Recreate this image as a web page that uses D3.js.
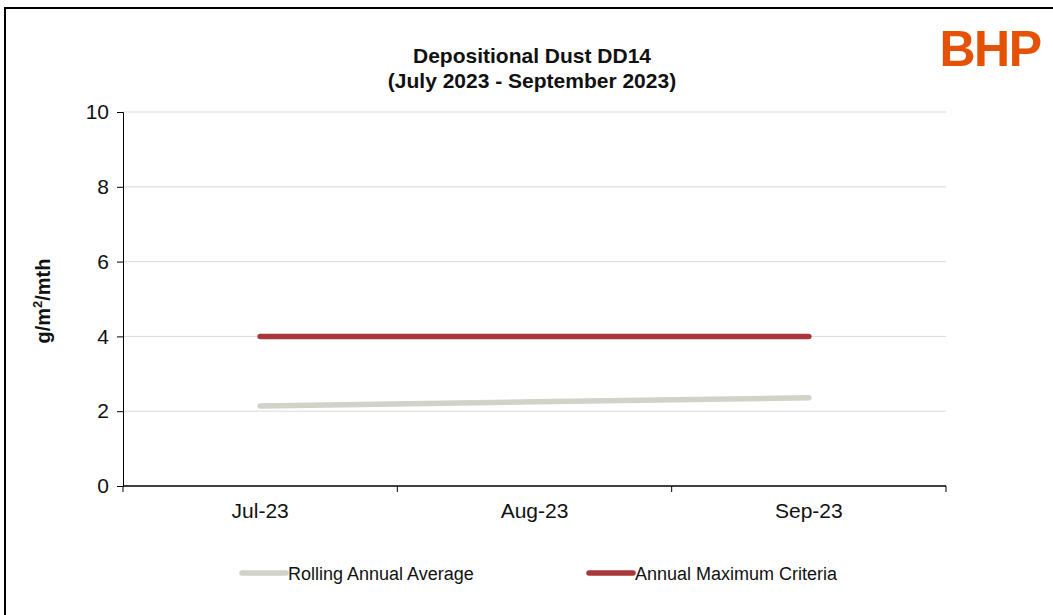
<!DOCTYPE html>
<html>
<head>
<meta charset="utf-8">
<script src="https://cdn.jsdelivr.net/npm/d3@7"></script>
<style>
  body { margin: 0; background: #fff; }
  text { font-family: "Liberation Sans", Arial, sans-serif; }
</style>
</head>
<body>
<svg id="chart" width="1053" height="615"></svg>
<script>
var months = ["Jul-23", "Aug-23", "Sep-23"];
var rollingAvg = [2.14, 2.25, 2.36];
var maxCriteria = [4, 4, 4];
var yTicks = [0, 2, 4, 6, 8, 10];

var svg = d3.select("#chart");
var margin = {left: 123, right: 107, top: 112, bottom: 129};
var width = 1053 - margin.left - margin.right,
	height = 615 - margin.top - margin.bottom;

// outer frame
svg.append("rect")
	.attr("x", 5).attr("y", 8)
	.attr("width", 1060).attr("height", 620)
	.attr("fill", "none").attr("stroke", "#000").attr("stroke-width", 2);

var x = d3.scaleBand().domain(months).range([0, width]);
var y = d3.scaleLinear().domain([0, 10]).range([height, 0]);

var g = svg.append("g")
	.attr("transform", "translate(" + margin.left + "," + margin.top + ")");

// gridlines
g.selectAll("line.grid")
	.data(yTicks.filter(function(d) { return d > 0; }))
	.enter().append("line")
	.attr("class", "grid")
	.attr("x1", 0).attr("x2", width)
	.attr("y1", function(d) { return y(d); })
	.attr("y2", function(d) { return y(d); })
	.attr("stroke", "#d9d9d9").attr("stroke-width", 1);

// y axis
var yAxis = g.append("g")
	.call(d3.axisLeft(y).tickValues(yTicks).tickSize(6).tickPadding(8));
yAxis.select(".domain").attr("stroke", "#000");
yAxis.selectAll(".tick line").attr("stroke", "#000");
yAxis.selectAll("text").attr("font-size", 21).attr("fill", "#111")
	.style("font-family", "'Liberation Sans', Arial, sans-serif");

// x axis: ticks at category boundaries
var xAxis = g.append("g").attr("transform", "translate(0," + height + ")");
xAxis.append("line")
	.attr("x1", 0).attr("x2", width)
	.attr("stroke", "#000").attr("stroke-width", 1.3);
var bounds = months.map(function(m) { return x(m); }).concat([width]);
xAxis.selectAll("line.tk").data(bounds).enter().append("line")
	.attr("class", "tk")
	.attr("x1", function(d) { return d; }).attr("x2", function(d) { return d; })
	.attr("y1", 0).attr("y2", 6)
	.attr("stroke", "#000");
xAxis.selectAll("text").data(months).enter().append("text")
	.attr("x", function(d) { return x(d) + x.bandwidth() / 2; })
	.attr("y", 32)
	.attr("text-anchor", "middle")
	.attr("font-size", 21)
	.attr("fill", "#111")
	.text(function(d) { return d; });

var line = d3.line()
	.x(function(d, i) { return x(months[i]) + x.bandwidth() / 2; })
	.y(function(d) { return y(d); });

g.append("path").datum(rollingAvg)
	.attr("d", line)
	.attr("fill", "none").attr("stroke", "#d1d3c9")
	.attr("stroke-width", 5.5).attr("stroke-linecap", "round");

g.append("path").datum(maxCriteria)
	.attr("d", line)
	.attr("fill", "none").attr("stroke", "#a8363a")
	.attr("stroke-width", 5.5).attr("stroke-linecap", "round");

// title
svg.append("text")
	.attr("x", 532).attr("y", 63)
	.attr("text-anchor", "middle").attr("font-size", 21).attr("font-weight", "bold")
	.attr("fill", "#111")
	.text("Depositional Dust DD14");
svg.append("text")
	.attr("x", 532).attr("y", 88)
	.attr("text-anchor", "middle").attr("font-size", 21).attr("font-weight", "bold")
	.attr("fill", "#111")
	.text("(July 2023 - September 2023)");

// y label
var yl = svg.append("text")
	.attr("transform", "translate(50,301) rotate(-90)")
	.attr("text-anchor", "middle").attr("font-size", 20).attr("font-weight", "bold")
	.attr("fill", "#111");
yl.append("tspan").text("g/m");
yl.append("tspan").attr("font-size", 13).attr("dy", -8).text("2");
yl.append("tspan").attr("dy", 8).text("/mth");

// logo
svg.append("text")
	.attr("x", 990).attr("y", 66)
	.attr("text-anchor", "middle").attr("font-size", 50).attr("font-weight", "bold")
	.attr("fill", "#e35205").attr("letter-spacing", -1.5)
	.text("BHP");

// legend
var legend = [
	{name: "Rolling Annual Average", color: "#d1d3c9", x: 240},
	{name: "Annual Maximum Criteria", color: "#a8363a", x: 587}
];
var lg = svg.selectAll("g.legend").data(legend).enter().append("g")
	.attr("class", "legend")
	.attr("transform", function(d) { return "translate(" + d.x + ",573)"; });
lg.append("line")
	.attr("x1", 2).attr("x2", 46)
	.attr("stroke", function(d) { return d.color; })
	.attr("stroke-width", 5.5).attr("stroke-linecap", "round");
lg.append("text")
	.attr("x", 48).attr("y", 7)
	.attr("font-size", 18)
	.attr("fill", "#111")
	.text(function(d) { return d.name; });
</script>
</body>
</html>
